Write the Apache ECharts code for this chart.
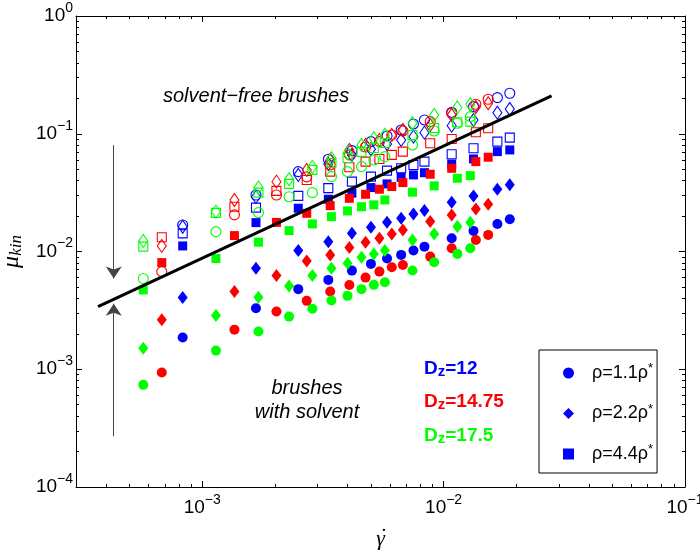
<!DOCTYPE html>
<html><head><meta charset="utf-8">
<script src="https://cdn.jsdelivr.net/npm/echarts@6/dist/echarts.min.js"></script>
<style>html,body{margin:0;padding:0;background:#fff}#c{width:700px;height:552px}</style>
</head><body><div id="c"></div>
<script>
// ---- tick values ----
const xTicks = [1e-3, 1e-2, 1e-1];
const xMinorTicks = [4e-4,5e-4,6e-4,7e-4,8e-4,9e-4,2e-3,3e-3,4e-3,5e-3,6e-3,7e-3,8e-3,9e-3,2e-2,3e-2,4e-2,5e-2,6e-2,7e-2,8e-2,9e-2];
const yTicks = [1e-4, 1e-3, 1e-2, 1e-1, 1];
const yMinorTicks = [2e-4,3e-4,4e-4,5e-4,6e-4,7e-4,8e-4,9e-4,2e-3,3e-3,4e-3,5e-3,6e-3,7e-3,8e-3,9e-3,2e-2,3e-2,4e-2,5e-2,6e-2,7e-2,8e-2,9e-2,0.2,0.3,0.4,0.5,0.6,0.7,0.8,0.9];

// ---- shear rates for each Dz ----
const shear12   = [8.3e-4,1.67e-3,2.5e-3,3.33e-3,4.17e-3,5.0e-3,5.83e-3,6.67e-3,7.5e-3,8.33e-3,1.08e-2,1.33e-2,1.67e-2,1.88e-2];
const shear1475 = [6.8e-4,1.36e-3,2.03e-3,2.71e-3,3.39e-3,4.07e-3,4.75e-3,5.42e-3,6.1e-3,6.78e-3,8.8e-3,1.08e-2,1.36e-2,1.53e-2];
const shear175  = [5.7e-4,1.14e-3,1.71e-3,2.29e-3,2.86e-3,3.43e-3,4.0e-3,4.57e-3,5.14e-3,5.71e-3,7.43e-3,9.14e-3,1.14e-2,1.29e-2];

// ---- brushes with solvent (filled markers) ----
const solv12_c   = [1.86e-3,3.30e-3,4.79e-3,5.74e-3,6.88e-3,7.85e-3,8.71e-3,9.36e-3,1.018e-2,1.10e-2,1.297e-2,1.496e-2,1.714e-2,1.88e-2];
const solv12_d   = [4.06e-3,7.21e-3,1.018e-2,1.213e-2,1.43e-2,1.608e-2,1.773e-2,1.917e-2,2.085e-2,2.225e-2,2.62e-2,2.965e-2,3.38e-2,3.68e-2];
const solv12_s   = [1.115e-2,1.759e-2,2.33e-2,2.78e-2,3.13e-2,3.49e-2,3.75e-2,4.27e-2,4.47e-2,4.67e-2,5.54e-2,6.11e-2,7.05e-2,7.29e-2];
const solv1475_c = [9.37e-4,2.17e-3,3.09e-3,3.81e-3,4.57e-3,5.20e-3,6.00e-3,6.75e-3,7.36e-3,7.69e-3,9.05e-3,1.067e-2,1.254e-2,1.384e-2];
const solv1475_d = [2.63e-3,4.57e-3,6.24e-3,8.32e-3,9.36e-3,1.079e-2,1.20e-2,1.297e-2,1.41e-2,1.525e-2,1.794e-2,2.045e-2,2.30e-2,2.52e-2];
const solv1475_s = [8.05e-3,1.365e-2,1.766e-2,2.11e-2,2.45e-2,2.83e-2,3.06e-2,3.38e-2,3.56e-2,3.85e-2,4.53e-2,5.09e-2,5.80e-2,6.32e-2];
const solv175_c  = [7.37e-4,1.44e-3,2.09e-3,2.80e-3,3.26e-3,3.83e-3,4.20e-3,4.79e-3,5.21e-3,5.49e-3,6.89e-3,8.11e-3,9.54e-3,1.067e-2];
const solv175_d  = [1.51e-3,2.86e-3,4.09e-3,5.10e-3,6.24e-3,7.21e-3,7.96e-3,8.95e-3,9.54e-3,1.018e-2,1.254e-2,1.41e-2,1.627e-2,1.773e-2];
const solv175_s  = [4.72e-3,8.71e-3,1.20e-2,1.504e-2,1.715e-2,1.978e-2,2.21e-2,2.40e-2,2.49e-2,2.74e-2,3.19e-2,3.61e-2,4.19e-2,4.41e-2];

// ---- solvent-free brushes (open markers) ----
const free12_c   = [1.68e-2,3.02e-2,4.77e-2,6.07e-2,7.19e-2,8.57e-2,9.58e-2,0.1077,0.1211,0.131,0.1522,0.1698,0.2025,0.2207];
const free12_d   = [1.62e-2,2.91e-2,4.47e-2,5.54e-2,6.61e-2,7.39e-2,8.19e-2,8.86e-2,9.45e-2,0.1022,0.1172,0.131,0.151,0.1624];
const free12_s   = [1.424e-2,2.36e-2,2.965e-2,3.45e-2,3.92e-2,4.32e-2,4.86e-2,5.09e-2,5.43e-2,5.8e-2,6.70e-2,7.53e-2,8.57e-2,9.27e-2];
const free1475_c = [6.75e-3,2.045e-2,3.02e-2,4.30e-2,5.43e-2,6.61e-2,7.72e-2,8.57e-2,9.77e-2,0.1056,0.1267,0.1493,0.178,0.1963];
const free1475_d = [1.115e-2,2.74e-2,3.92e-2,4.93e-2,5.99e-2,7.29e-2,8.03e-2,8.86e-2,9.77e-2,0.1077,0.1188,0.1444,0.1688,0.1815];
const free1475_s = [1.322e-2,2.40e-2,3.27e-2,4.05e-2,4.77e-2,5.19e-2,5.8e-2,6.11e-2,6.61e-2,7.05e-2,8.30e-2,9.03e-2,0.103,0.1113];
const free175_c  = [5.89e-3,1.475e-2,2.14e-2,2.92e-2,3.16e-2,4.32e-2,4.77e-2,5.26e-2,5.99e-2,6.39e-2,8.03e-2,0.1056,0.1228,0.1397];
const free175_d  = [1.23e-2,2.18e-2,3.49e-2,4.11e-2,5.23e-2,6.19e-2,6.87e-2,8.03e-2,9.16e-2,9.77e-2,0.1228,0.1444,0.1673,0.178];
const free175_s  = [1.10e-2,2.13e-2,3.16e-2,3.75e-2,4.93e-2,5.65e-2,6.23e-2,7.01e-2,7.57e-2,8.35e-2,9.77e-2,0.112,0.1252,0.1267];

// ---- guide line and arrows ----
const guideLine = [[3.7e-4, 3.4e-3], [2.8e-2, 0.21]];
const arrowDown = [[4.3e-4, 0.08], [4.3e-4, 5.9e-3]];
const arrowUp   = [[4.3e-4, 2.7e-4], [4.3e-4, 3.6e-3]];

const legendNames = ['ρ=1.1ρ*', 'ρ=2.2ρ*', 'ρ=4.4ρ*'];

const groups = [
  {dz: '12',    color: '#0000ff', x: shear12,   solv: [solv12_c, solv12_d, solv12_s],       free: [free12_c, free12_d, free12_s]},
  {dz: '14.75', color: '#ff0000', x: shear1475, solv: [solv1475_c, solv1475_d, solv1475_s], free: [free1475_c, free1475_d, free1475_s]},
  {dz: '17.5',  color: '#00ff00', x: shear175,  solv: [solv175_c, solv175_d, solv175_s],    free: [free175_c, free175_d, free175_s]}
];
const symbols = ['circle', 'diamond', 'rect'];
const fillSizes = [10, [10, 13], 9];
const openSizes = [10, [9, 13], 9];

const zip = (xs, ys) => xs.map((x, i) => [x, ys[i]]);
const series = [];
groups.forEach((g, gi) => {
  for (let k = 0; k < 3; k++) {
    series.push({
      type: 'scatter', name: gi === 0 ? legendNames[k] : ('solv ' + g.dz + ' ' + k),
      symbol: symbols[k], symbolSize: fillSizes[k],
      itemStyle: {color: g.color, opacity: 1},
      data: zip(g.x, g.solv[k]), z: 3, silent: true
    });
    series.push({
      type: 'scatter', name: 'free ' + g.dz + ' ' + k,
      symbol: symbols[k], symbolSize: openSizes[k],
      itemStyle: {color: 'rgba(0,0,0,0)', borderColor: g.color, borderWidth: 1.1, opacity: 1},
      data: zip(g.x, g.free[k]), z: 3, silent: true
    });
  }
});
series.push({type: 'line', name: 'guide', data: guideLine, symbol: 'none', lineStyle: {color: '#000', width: 3}, z: 4, silent: true});
series.push({
  type: 'lines', name: 'arrows', coordinateSystem: 'cartesian2d', xAxisIndex: 0, yAxisIndex: 0,
  symbol: ['none', 'arrow'], symbolSize: 12,
  lineStyle: {color: '#444', width: 1, opacity: 1},
  data: [{coords: arrowDown}, {coords: arrowUp}], z: 4, silent: true
});

const expFmt = v => {
  const e = Math.round(Math.log10(v));
  return '{b|10}{e|' + (e < 0 ? '\u2212' + (-e) : String(e)) + '}';
};
const labelRich = {
  b: {fontSize: 19, lineHeight: 30, fontFamily: 'Liberation Sans', color: '#000'},
  e: {fontSize: 14, lineHeight: 14, verticalAlign: 'top', fontFamily: 'Liberation Sans', color: '#000'}
};
const line = {show: true, onZero: false, lineStyle: {color: '#000', width: 1}};
const noLine = {show: false};
function axis(pos, ticks, len, withLabels, extra) {
  return Object.assign({
    type: 'log', position: pos, splitLine: {show: false},
    axisLine: len > 4 ? line : noLine,
    axisTick: {show: true, inside: true, length: len, customValues: ticks, lineStyle: {color: '#000', width: 1}},
    axisLabel: withLabels ? {show: true, customValues: ticks, formatter: expFmt, rich: labelRich, margin: pos === 'left' ? 3 : 6} : {show: false},
    axisPointer: {show: false}
  }, extra);
}
const xr = {min: 3e-4, max: 0.1};
const yr = {min: 1e-4, max: 1};

const option = {
  animation: false,
  backgroundColor: '#fff',
  grid: {left: 76, right: 15, top: 16, bottom: 65, containLabel: false, outerBoundsMode: 'none'},
  xAxis: [
    axis('bottom', xTicks, 6, true, Object.assign({name: 'γ', nameLocation: 'middle', nameGap: 41,
      nameTextStyle: {fontFamily: 'Liberation Serif', fontStyle: 'italic', fontSize: 22, lineHeight: 22, color: '#000'}}, xr)),
    axis('bottom', xMinorTicks, 3, false, xr),
    axis('top', xTicks, 6, false, xr),
    axis('top', xMinorTicks, 3, false, xr)
  ],
  yAxis: [
    axis('left', yTicks, 6, true, Object.assign({name: '{m|μ}{s|kin}', nameLocation: 'middle', nameGap: 44, nameRotate: 90,
      nameTextStyle: {color: '#000', rich: {
        m: {fontFamily: 'Liberation Serif', fontStyle: 'italic', fontSize: 24, lineHeight: 26, color: '#000'},
        s: {fontFamily: 'Liberation Serif', fontStyle: 'italic', fontSize: 17, lineHeight: 17, verticalAlign: 'bottom', color: '#000'}
      }}}, yr)),
    axis('left', yMinorTicks, 3, false, yr),
    axis('right', yTicks, 6, false, yr),
    axis('right', yMinorTicks, 3, false, yr)
  ],
  legend: {
    data: legendNames, left: 539, top: 350, orient: 'vertical',
    backgroundColor: '#fff', borderColor: '#000', borderWidth: 1, borderRadius: 0,
    padding: [12, 4, 10, 24], itemGap: 20.5, itemWidth: 11, itemHeight: 11,
    selectedMode: false,
    formatter: n => '{r|' + n.slice(0, -1) + '}{s|*}',
    textStyle: {width: 90, rich: {
      r: {fontSize: 18, lineHeight: 22, fontFamily: 'Liberation Sans', color: '#000', padding: [0, 0, 0, 13]},
      s: {fontSize: 13, lineHeight: 13, verticalAlign: 'top', fontFamily: 'Liberation Sans', color: '#000'}
    }}
  },
  graphic: [
    {type: 'text', x: 163, y: 96, z: 10, style: {text: 'solvent\u2212free brushes', font: 'italic 20px "Liberation Sans"', fill: '#000', verticalAlign: 'middle'}},
    {type: 'text', x: 307, y: 400, z: 10, style: {text: 'brushes\nwith solvent', font: 'italic 20px "Liberation Sans"', fill: '#000', align: 'center', verticalAlign: 'middle', lineHeight: 24}},
    {type: 'text', x: 384, y: 537, z: 10, style: {text: '\u02d9', font: '22px "Liberation Serif"', fill: '#000', align: 'center', verticalAlign: 'middle'}},
    ...groups.map((g, i) => ({
      type: 'text', x: 424, y: 359 + i * 33.5, z: 10,
      style: {
        text: '{d|D}{z|z}{d|=' + g.dz + '}',
        rich: {
          d: {fontSize: 19, fontWeight: 'bold', fontFamily: 'Liberation Sans', lineHeight: 20, padding: [0, 0, 7, 0], verticalAlign: 'top', fill: g.color},
          z: {fontSize: 15, fontWeight: 'bold', fontFamily: 'Liberation Sans', lineHeight: 15, verticalAlign: 'bottom', fill: g.color}
        }
      }
    }))
  ],
  series: series
};
const chart = echarts.init(document.getElementById('c'), null, {renderer: 'canvas'});
chart.setOption(option);
</script></body></html>
